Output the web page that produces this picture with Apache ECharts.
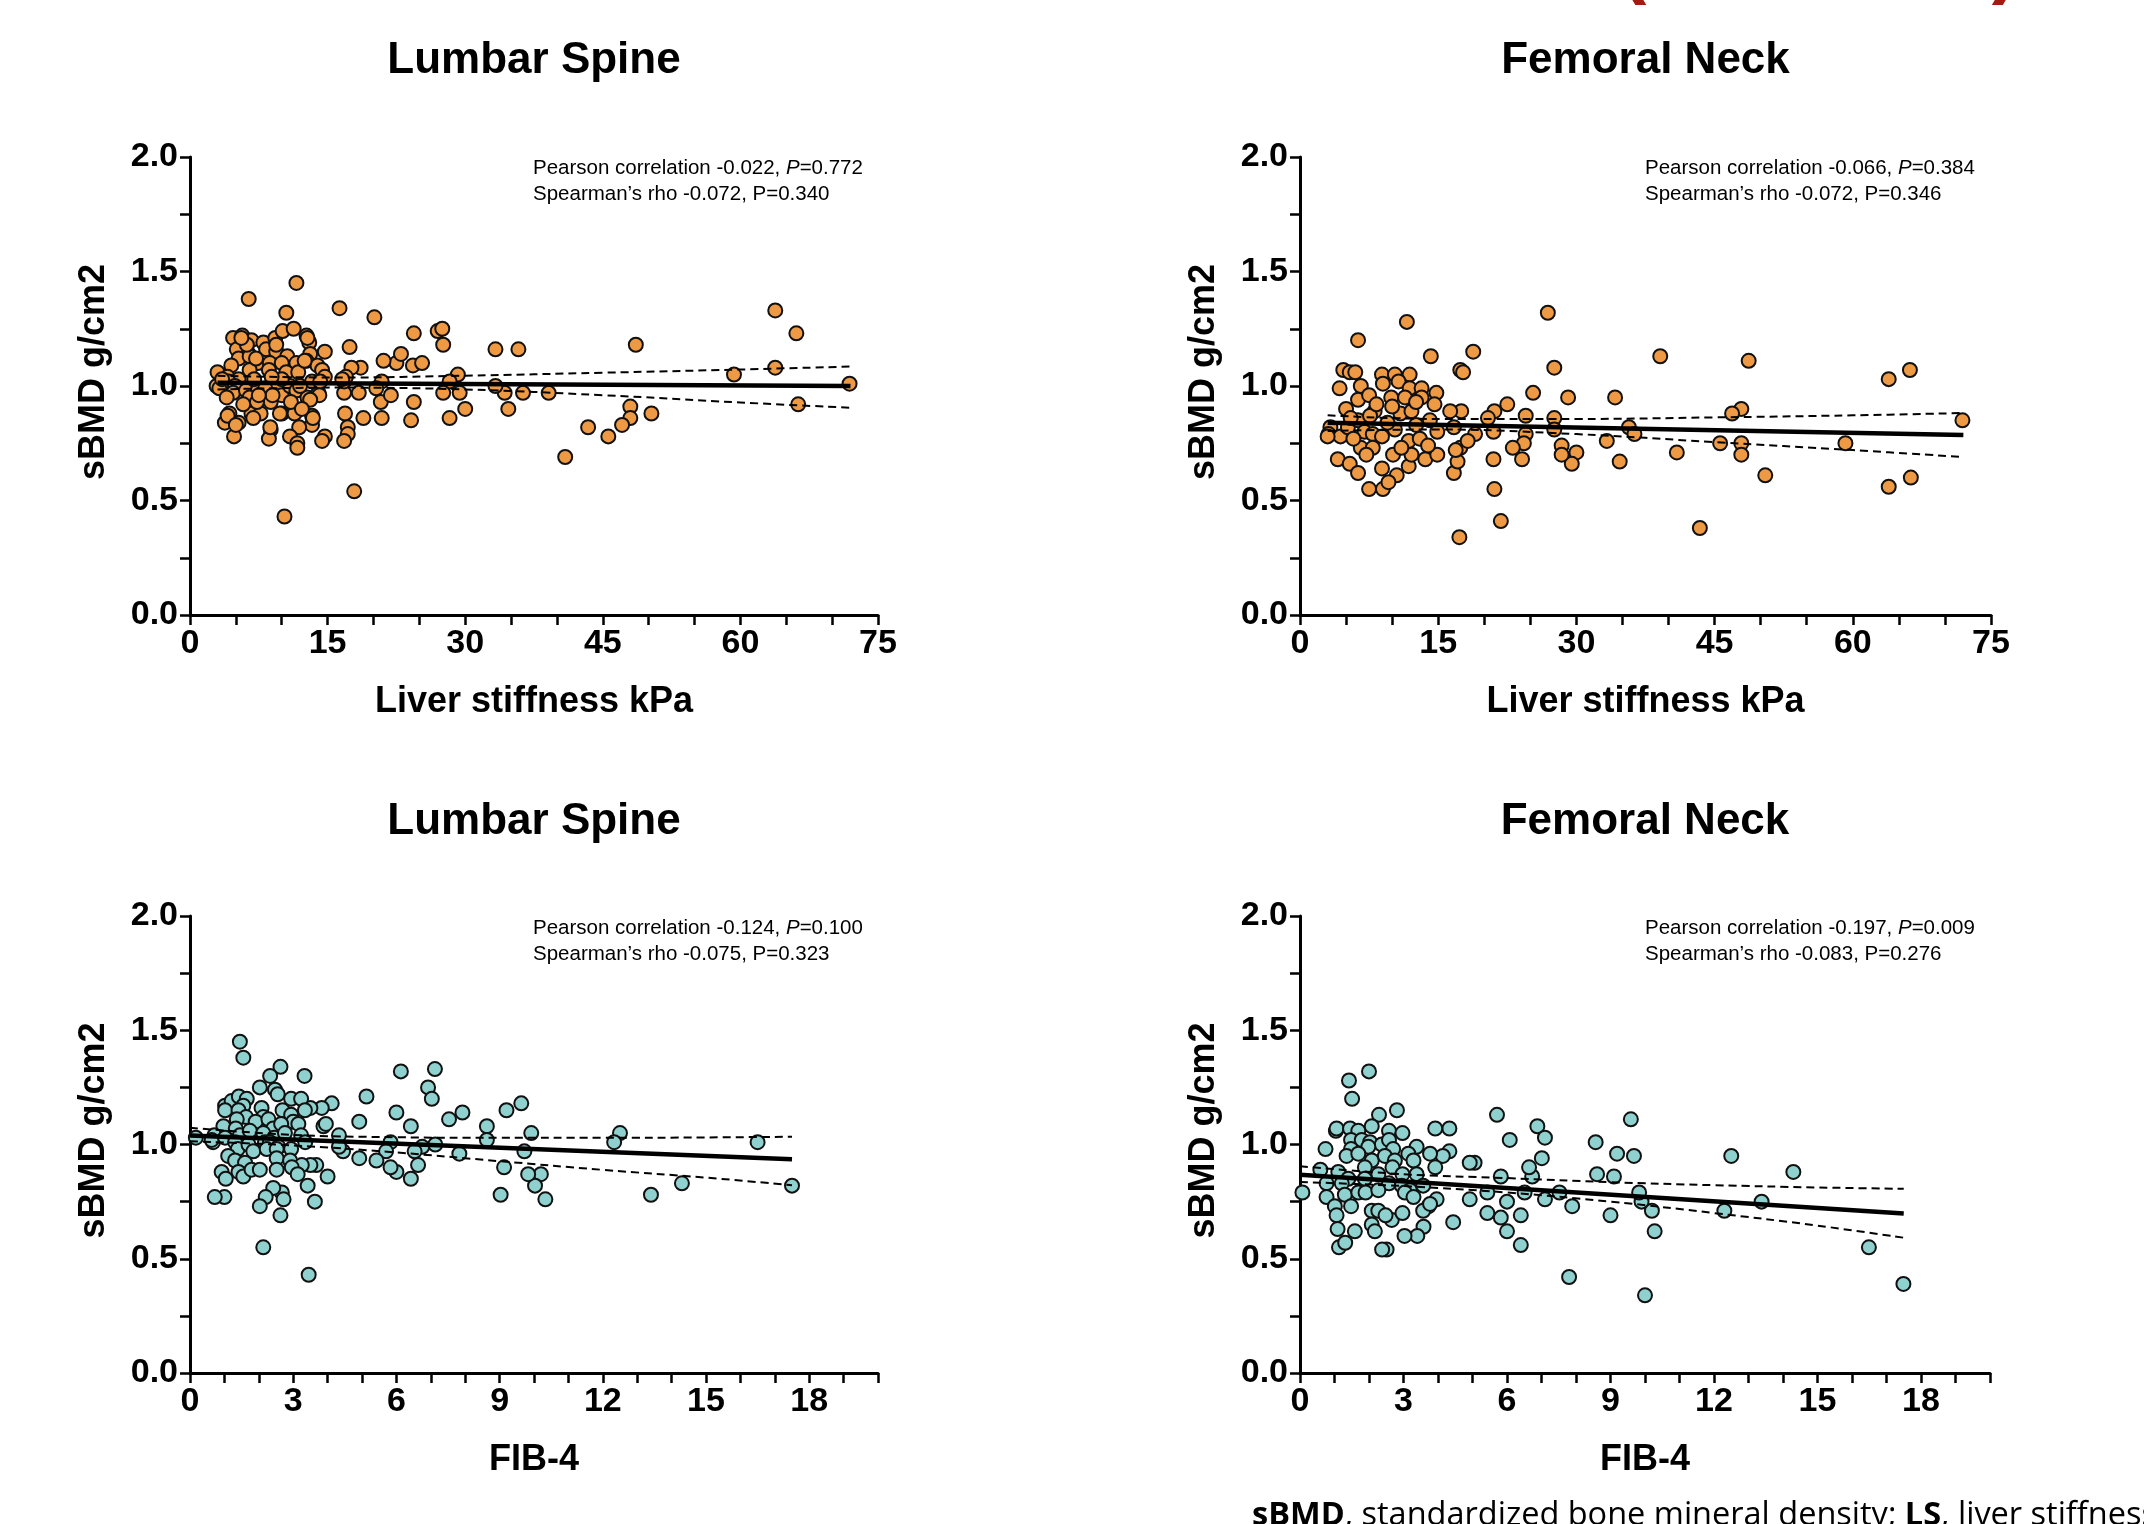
<!DOCTYPE html>
<html><head><meta charset="utf-8">
<script src="https://cdn.jsdelivr.net/npm/echarts@6/dist/echarts.min.js"></script>
<style>html,body{margin:0;padding:0;background:#fff}#c{width:2144px;height:1524px}</style>
</head><body><div id="c"></div>
<script>
// ---------- DATA ----------
const lsLumbar = [[6.4,1.38],[11.6,1.45],[10.5,1.32],[16.3,1.34],[20.1,1.30],[24.4,1.23],[27.0,1.24],[27.5,1.25],[27.6,1.18],[33.3,1.16],[35.8,1.16],[48.6,1.18],[63.8,1.33],[66.1,1.23],[63.8,1.08],[59.3,1.05],[71.9,1.01],[66.3,0.92],[50.3,0.88],[48.0,0.91],[48.0,0.86],[47.1,0.83],[45.6,0.78],[43.4,0.82],[40.9,0.69],[39.1,0.97],[36.3,0.97],[34.3,0.97],[33.3,1.00],[34.7,0.90],[30.0,0.90],[29.2,1.05],[28.3,1.02],[29.4,0.97],[27.6,0.97],[28.3,0.86],[24.1,0.85],[24.4,0.93],[24.3,1.09],[25.3,1.10],[22.5,1.10],[23.0,1.14],[21.1,1.11],[20.9,1.02],[20.3,0.99],[20.8,0.93],[21.9,0.96],[20.9,0.86],[18.9,0.86],[18.4,0.97],[18.6,1.08],[17.6,1.08],[17.4,1.17],[17.9,0.54],[10.3,0.43],[16.9,0.88],[17.2,0.82],[17.2,0.79],[16.8,0.76],[16.8,0.97],[16.8,1.02],[17.0,1.04],[14.7,1.15],[14.7,0.78],[14.4,0.76],
[4.7,1.21],[5.7,1.22],[6.7,1.20],[5.1,1.16],[8.0,1.19],[9.3,1.21],[10.1,1.24],[11.3,1.25],[12.7,1.22],[13.0,1.19],[6.4,1.14],[8.3,1.16],[9.4,1.15],[10.6,1.13],[13.1,1.14],[5.3,1.12],[6.5,1.13],[7.4,1.10],[8.7,1.10],[10.0,1.10],[11.6,1.10],[12.7,1.11],[13.9,1.09],[4.5,1.09],[3.0,1.06],[4.1,1.04],[5.3,1.03],[6.5,1.07],[8.6,1.07],[10.5,1.06],[11.8,1.06],[14.4,1.07],[14.7,1.04],[2.9,1.00],[4.2,1.02],[4.9,1.00],[4.7,0.97],[6.1,0.98],[7.4,0.98],[9.4,1.00],[10.0,0.96],[10.9,1.00],[11.6,0.98],[12.8,0.95],[13.3,1.02],[14.0,0.97],[14.2,1.02],[16.6,1.03],[4.3,0.88],[3.8,0.84],[5.3,0.84],[4.8,0.78],[6.7,0.88],[7.7,0.88],[8.8,0.93],[10.0,0.88],[11.4,0.88],[13.3,0.87],[13.3,0.83],[11.9,0.82],[8.8,0.81],[8.6,0.77],[10.9,0.78],[11.7,0.75],[11.7,0.73],[10.0,1.03],[8.9,1.04],[6.5,0.95],[7.3,0.93],
[4.1,0.87],[5.0,0.83],[6.9,0.86],[8.75,0.82],[9.8,0.88],[13.4,0.86],[14.1,0.96],[13.1,0.94],[12.5,1.11],[12.8,1.21],[9.4,1.18],[7.2,1.12],[6.2,1.18],[5.6,1.21],[3.2,0.99],[3.5,1.03],[4.0,0.95],[5.8,0.92],[7.0,1.03],[8.2,0.99],[9.0,0.96],[12.0,1.00],[11.0,0.93],[7.5,0.96],[12.2,0.90]];

const lsFemoral = [[11.6,1.28],[6.3,1.20],[26.9,1.32],[14.2,1.13],[18.8,1.15],[17.4,1.07],[17.7,1.06],[27.6,1.08],[39.1,1.13],[48.7,1.11],[63.9,1.03],[66.2,1.07],[71.9,0.85],[59.2,0.75],[63.9,0.56],[66.3,0.60],[50.5,0.61],[43.4,0.38],[47.9,0.90],[46.9,0.88],[47.9,0.75],[47.9,0.70],[45.6,0.75],[40.9,0.71],[35.7,0.82],[36.3,0.79],[34.2,0.95],[33.3,0.76],[34.7,0.67],[29.1,0.95],[30.0,0.71],[29.5,0.66],[28.4,0.74],[28.4,0.70],[27.6,0.86],[27.6,0.81],[25.3,0.97],[24.5,0.87],[24.5,0.79],[24.3,0.75],[24.1,0.68],[23.1,0.73],[22.5,0.92],[21.8,0.41],[21.1,0.55],[21.0,0.68],[21.0,0.80],[21.1,0.89],[20.4,0.86],[17.3,0.34],[16.7,0.62],[17.1,0.67],[17.4,0.73],[16.9,0.72],[17.5,0.89],[16.3,0.89],[16.7,0.82],[19.0,0.79],[18.2,0.76],
[4.7,1.07],[5.4,1.06],[6.0,1.06],[4.3,0.99],[6.6,1.00],[8.9,1.05],[10.3,1.05],[11.9,1.05],[10.7,1.02],[9.0,1.01],[11.9,0.99],[13.2,0.99],[14.8,0.97],[6.3,0.94],[7.5,0.96],[9.9,0.95],[11.4,0.95],[13.2,0.95],[14.6,0.92],[5.0,0.90],[8.1,0.89],[10.9,0.88],[12.1,0.89],[14.1,0.85],[3.3,0.82],[3.1,0.79],[4.4,0.78],[5.2,0.82],[6.3,0.85],[7.0,0.80],[7.9,0.79],[8.9,0.78],[10.3,0.81],[11.8,0.76],[13.0,0.77],[14.9,0.80],[4.1,0.68],[5.4,0.66],[6.3,0.62],[6.6,0.73],[7.9,0.73],[8.9,0.64],[10.1,0.70],[10.5,0.61],[11.8,0.65],[12.1,0.70],[13.6,0.68],[14.9,0.70],[7.5,0.55],[9.0,0.55],[9.6,0.58],
[3.0,0.78],[5.5,0.86],[7.6,0.87],[9.5,0.84],[12.6,0.83],[8.3,0.92],[10.0,0.91],[12.6,0.93],[5.8,0.77],[7.2,0.70],[11.0,0.73],[13.9,0.74]];

const fibLumbar = [[1.45,1.45],[1.55,1.38],[2.63,1.34],[3.33,1.30],[2.33,1.30],[6.13,1.32],[7.12,1.33],[6.92,1.25],[7.03,1.20],[5.13,1.21],[6.0,1.14],[7.92,1.14],[7.53,1.11],[4.92,1.10],[6.42,1.08],[8.63,1.08],[8.63,1.02],[9.2,1.15],[9.63,1.18],[9.92,1.05],[12.5,1.05],[12.33,1.01],[16.5,1.01],[17.5,0.82],[14.3,0.83],[13.4,0.78],[10.33,0.76],[10.2,0.87],[10.03,0.82],[9.83,0.87],[9.72,0.97],[9.03,0.78],[9.13,0.90],[7.83,0.96],[7.13,1.00],[6.75,0.99],[6.53,0.97],[6.63,0.91],[6.42,0.85],[6.0,0.88],[5.83,0.90],[5.83,1.01],[5.7,0.97],[5.42,0.93],[4.92,0.94],[4.45,0.97],[4.33,0.99],[4.33,1.04],[4.0,0.86],[3.88,1.08],[3.95,1.09],[4.12,1.18],[3.83,1.16],[3.5,1.16],[3.67,0.91],[3.5,0.91],[3.63,0.75],[3.42,0.82],[3.45,0.43],[2.13,0.55],[2.63,0.69],[2.67,0.79],[2.72,0.76],[2.42,0.81],[2.2,0.77],[2.03,0.73],[1.0,0.77],[0.72,0.77],[0.17,1.03],[0.67,1.01],
[2.03,1.25],[2.47,1.24],[2.55,1.22],[1.02,1.17],[1.21,1.19],[1.42,1.21],[1.65,1.20],[1.55,1.17],[1.02,1.15],[1.41,1.15],[2.08,1.16],[2.13,1.12],[1.63,1.12],[1.91,1.10],[2.28,1.11],[2.69,1.15],[2.94,1.20],[2.94,1.13],[3.23,1.20],[3.34,1.15],[0.97,1.08],[1.36,1.11],[1.33,1.07],[1.79,1.05],[2.42,1.07],[3.0,1.10],[3.15,1.09],[2.65,1.09],[0.71,1.04],[0.63,1.02],[1.02,1.03],[1.45,1.04],[1.74,1.06],[2.13,1.05],[2.45,1.03],[2.76,1.05],[3.23,1.04],[3.35,1.01],[1.31,1.01],[1.39,0.98],[1.70,1.00],[2.18,1.01],[2.32,1.01],[2.57,0.99],[2.94,0.98],[1.84,0.97],[2.23,0.98],[2.52,0.98],[1.11,0.95],[1.31,0.93],[1.60,0.92],[2.52,0.94],[2.91,0.93],[3.25,0.91],[0.92,0.88],[1.04,0.85],[1.41,0.88],[1.55,0.86],[1.79,0.89],[2.03,0.89],[2.52,0.89],[2.96,0.90],[3.13,0.87]];

const fibFemoral = [[2.0,1.32],[1.42,1.28],[1.51,1.20],[2.29,1.13],[2.81,1.15],[5.71,1.13],[9.59,1.11],[6.88,1.08],[7.10,1.03],[6.08,1.02],[8.57,1.01],[9.19,0.96],[9.68,0.95],[7.01,0.94],[12.5,0.95],[14.3,0.88],[13.38,0.75],[12.3,0.71],[16.49,0.55],[17.49,0.39],[10.0,0.34],[7.8,0.42],[10.28,0.62],[10.2,0.71],[9.9,0.75],[9.83,0.79],[9.0,0.69],[9.1,0.86],[8.61,0.87],[7.89,0.73],[7.52,0.79],[7.1,0.76],[6.73,0.86],[6.64,0.90],[6.51,0.79],[6.4,0.69],[6.4,0.56],[6.0,0.75],[6.0,0.62],[5.82,0.68],[5.82,0.86],[5.43,0.79],[5.43,0.70],[5.06,0.92],[4.92,0.92],[4.92,0.76],[4.44,0.66],[4.33,1.07],[3.92,1.07],[4.33,0.97],[4.14,0.95],[3.77,0.96],[3.92,0.90],[3.96,0.76],[3.73,0.73],[3.58,0.64],[3.4,0.60],[3.03,0.60],[2.51,0.54],[2.38,0.54],[1.13,0.55],[1.31,0.57],[0.07,0.79],[0.59,0.89],[0.74,0.98],[1.04,1.06],
[1.06,1.07],[1.45,1.07],[1.69,1.06],[2.08,1.08],[2.58,1.06],[2.97,1.05],[1.48,1.02],[1.79,1.02],[2.03,1.01],[2.37,1.00],[2.58,1.02],[1.48,0.98],[1.98,0.99],[2.70,0.98],[3.38,0.99],[3.14,0.96],[3.29,0.93],[1.35,0.95],[1.69,0.96],[2.08,0.93],[2.46,0.95],[2.75,0.93],[1.11,0.88],[1.88,0.90],[2.27,0.87],[2.68,0.90],[2.97,0.87],[3.38,0.87],[1.40,0.85],[1.88,0.85],[0.77,0.83],[1.21,0.83],[2.58,0.83],[2.95,0.82],[3.19,0.80],[3.57,0.82],[0.77,0.77],[1.30,0.78],[1.69,0.79],[1.90,0.79],[2.27,0.80],[3.04,0.79],[3.29,0.77],[1.01,0.73],[1.48,0.73],[2.08,0.71],[2.27,0.71],[2.66,0.67],[2.97,0.70],[3.57,0.71],[3.77,0.74],[1.06,0.69],[2.48,0.69],[1.09,0.63],[1.59,0.62],[2.08,0.65],[2.17,0.62]];

// regression line and 95% confidence band
const lsLumbarFit = [[3,1.014],[72,1.0]];
const lsLumbarUpper = [[3,1.045],[16,1.037],[30,1.045],[45,1.058],[60,1.072],[72,1.085]];
const lsLumbarLower = [[3,0.985],[16,0.993],[30,0.985],[45,0.960],[60,0.928],[72,0.905]];
const lsFemoralFit = [[3,0.840],[72,0.786]];
const lsFemoralUpper = [[3,0.872],[15,0.856],[30,0.856],[45,0.863],[60,0.872],[72,0.882]];
const lsFemoralLower = [[3,0.804],[15,0.810],[30,0.790],[45,0.755],[60,0.720],[72,0.690]];
const fibLumbarFit = [[0,1.039],[17.5,0.935]];
const fibLumbarUpper = [[0,1.073],[3,1.042],[6,1.032],[9,1.029],[12,1.029],[15,1.031],[17.5,1.034]];
const fibLumbarLower = [[0,1.014],[3,0.996],[6,0.965],[9,0.927],[12,0.889],[15,0.855],[17.5,0.822]];
const fibFemoralFit = [[0,0.868],[17.5,0.698]];
const fibFemoralUpper = [[0,0.905],[3,0.870],[6,0.853],[9,0.835],[12,0.822],[15,0.812],[17.5,0.806]];
const fibFemoralLower = [[0,0.836],[3,0.818],[6,0.790],[9,0.750],[12,0.700],[15,0.645],[17.5,0.592]];

const panelTitles = ['Lumbar Spine','Femoral Neck','Lumbar Spine','Femoral Neck'];
const xAxisNames = ['Liver stiffness kPa','Liver stiffness kPa','FIB-4','FIB-4'];
const yAxisName = 'sBMD g/cm2';
const pearson = [['-0.022','0.772'],['-0.066','0.384'],['-0.124','0.100'],['-0.197','0.009']];
const spearman = [['-0.072','0.340'],['-0.072','0.346'],['-0.075','0.323'],['-0.083','0.276']];
const xMax = [75,75,20,20];
const xTickStep = [5,5,1,1];
const xLabelStep = [15,15,3,3];
const yLabelStep = 0.5;

// ---------- LAYOUT ----------
const grids = [
  {left:190, top:157, width:688, height:458},
  {left:1300, top:157, width:691, height:458},
  {left:190, top:916, width:688, height:457},
  {left:1300, top:916, width:690, height:457}
];
const colors = ['#EE9A45','#EE9A45','#8FD1CE','#8FD1CE'];
const pointSets = [lsLumbar, lsFemoral, fibLumbar, fibFemoral];
const fits = [lsLumbarFit, lsFemoralFit, fibLumbarFit, fibFemoralFit];
const uppers = [lsLumbarUpper, lsFemoralUpper, fibLumbarUpper, fibFemoralUpper];
const lowers = [lsLumbarLower, lsFemoralLower, fibLumbarLower, fibFemoralLower];

const FONT = "'Liberation Sans', Arial, Helvetica, sans-serif";
const axisLine = {show:true, onZero:false, lineStyle:{color:'#000', width:3}};
const axisTick = {show:true, inside:false, length:10, lineStyle:{color:'#000', width:2.5}};
const labelStyle = {fontSize:34, fontWeight:'bold', color:'#000', fontFamily:FONT};

const xAxes = [], yAxes = [], series = [], graphics = [];
for (let i = 0; i < 4; i++) {
  const step = xLabelStep[i];
  xAxes.push({
    type:'value', gridIndex:i, min:0, max:xMax[i], interval:xTickStep[i],
    axisLine, axisTick, splitLine:{show:false},
    axisLabel:Object.assign({margin:12, formatter:v => (Math.round(v) % step === 0 ? String(v) : '')}, labelStyle),
    name:xAxisNames[i], nameLocation:'middle', nameGap:69,
    nameTextStyle:{fontSize:36, fontWeight:'bold', color:'#000', fontFamily:FONT}
  });
  yAxes.push({
    type:'value', gridIndex:i, min:0, max:2, interval:0.25,
    axisLine, axisTick, splitLine:{show:false},
    axisLabel:Object.assign({margin:12, formatter:v => (Math.abs(v/yLabelStep - Math.round(v/yLabelStep)) < 1e-6 ? v.toFixed(1) : '')}, labelStyle),
    name:yAxisName, nameLocation:'middle', nameGap:78,
    nameTextStyle:{fontSize:36, fontWeight:'bold', color:'#000', fontFamily:FONT, padding:[0,0,0,28]}
  });
  series.push({
    type:'scatter', xAxisIndex:i, yAxisIndex:i, data:pointSets[i],
    symbol:'circle', symbolSize:14, z:2,
    itemStyle:{color:colors[i], borderColor:'#111', borderWidth:2, opacity:1}
  });
  series.push({type:'line', xAxisIndex:i, yAxisIndex:i, data:fits[i], symbol:'none', z:4,
    lineStyle:{color:'#000', width:4.5}});
  series.push({type:'line', xAxisIndex:i, yAxisIndex:i, data:uppers[i], symbol:'none', smooth:0.4, z:4,
    lineStyle:{color:'#000', width:2, type:[8,5]}});
  series.push({type:'line', xAxisIndex:i, yAxisIndex:i, data:lowers[i], symbol:'none', smooth:0.4, z:4,
    lineStyle:{color:'#000', width:2, type:[8,5]}});

  const g = grids[i];
  const cx = g.left + g.width/2;
  graphics.push({type:'text', x:cx, y:(i < 2 ? 61 : 822),
    style:{text:panelTitles[i], align:'center', verticalAlign:'middle', fontSize:44, fontWeight:'bold', fill:'#000', fontFamily:FONT}});
  const sx = (i % 2 === 0) ? 533 : 1645;
  const sy = (i < 2) ? 155 : 915;
  graphics.push({type:'text', x:sx, y:sy,
    style:{
      text:'{n|Pearson correlation ' + pearson[i][0] + ', }{i|P}{n|=' + pearson[i][1] + '}\n{n|Spearman\u2019s rho ' + spearman[i][0] + ', P=' + spearman[i][1] + '}',
      align:'left', verticalAlign:'top', fill:'#000', fontSize:20.5, fontFamily:FONT,
      rich:{
        n:{fontSize:20.5, fontFamily:FONT, fill:'#000', lineHeight:26},
        i:{fontSize:20.5, fontFamily:FONT, fill:'#000', fontStyle:'italic', lineHeight:26}
      }
    }});
}

// red parentheses cut off at the top, and the footnote cut off at the bottom
graphics.push({type:'text', x:1633, y:-34, style:{text:'(', align:'center', verticalAlign:'middle', fontSize:80, fontWeight:'bold', fill:'#A31A10', fontFamily:FONT}});
graphics.push({type:'text', x:2005, y:-34, style:{text:')', align:'center', verticalAlign:'middle', fontSize:80, fontWeight:'bold', fill:'#A31A10', fontFamily:FONT}});
graphics.push({type:'text', x:1252, y:1516, style:{
  text:'{b|sBMD}{n|, standardized bone mineral density; }{b|LS}{n|, liver stiffness}',
  align:'left', verticalAlign:'middle', fill:'#000', fontSize:32.5, fontFamily:"'Open Sans', sans-serif",
  rich:{
    b:{fontSize:32.5, fontWeight:'bold', fill:'#000', fontFamily:"'Open Sans', sans-serif"},
    n:{fontSize:32.5, fill:'#000', fontFamily:"'Open Sans', sans-serif"}
  }}});

const chart = echarts.init(document.getElementById('c'), null, {renderer:'canvas'});
chart.setOption({
  animation:false,
  backgroundColor:'#fff',
  grid:grids.map(g => Object.assign({containLabel:false}, g)),
  xAxis:xAxes,
  yAxis:yAxes,
  series:series,
  graphic:graphics
});
</script>
</body></html>
